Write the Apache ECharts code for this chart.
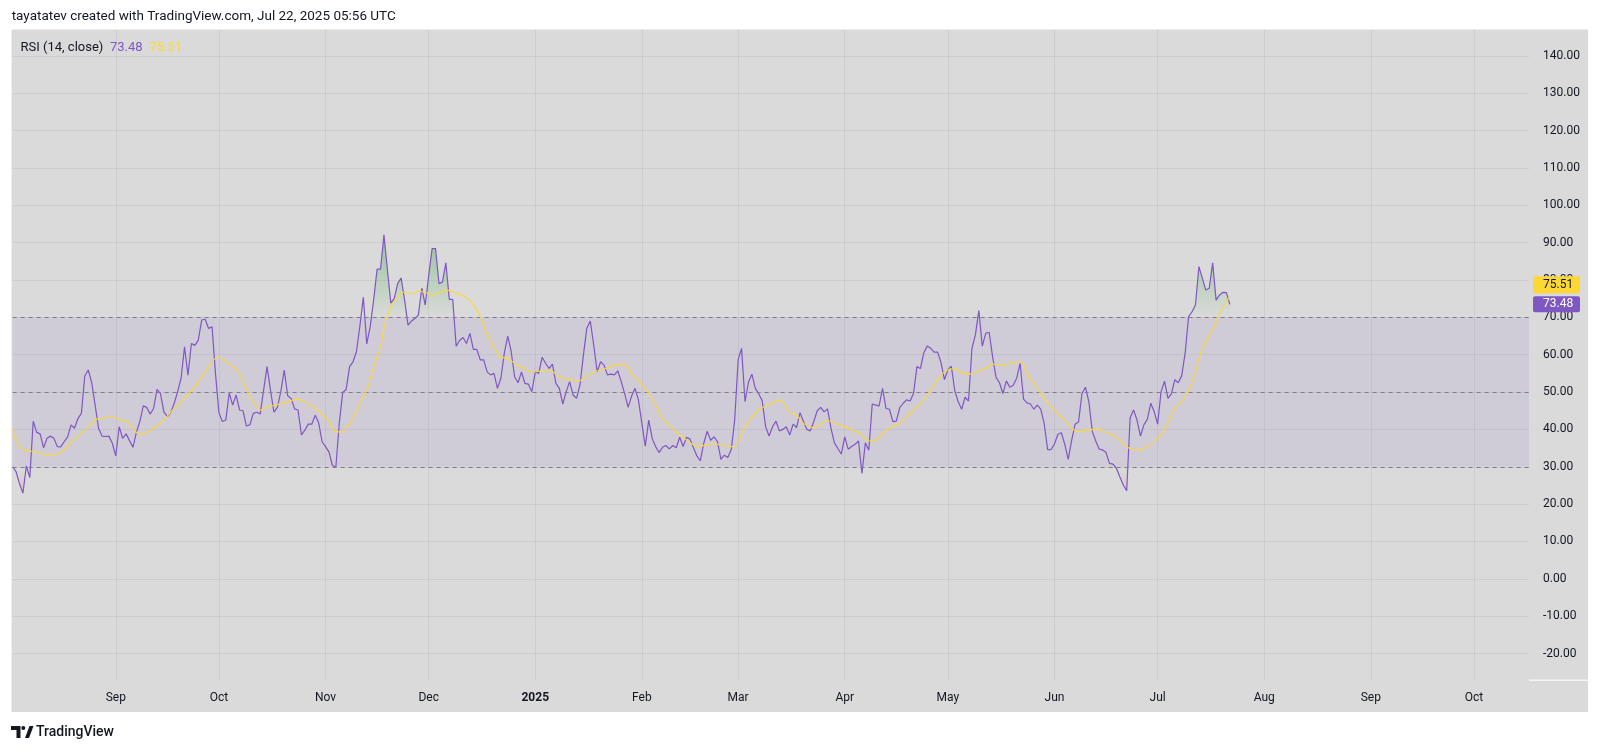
<!DOCTYPE html>
<html>
<head>
<meta charset="utf-8">
<script src="https://cdn.jsdelivr.net/npm/echarts@6.0.0/dist/echarts.min.js"></script>
<style>
html,body{margin:0;padding:0;background:#ffffff;}
#chart{width:1600px;height:751px;}
</style>
</head>
<body>
<div id="chart"></div>
<script>
// ---------------- data ----------------
const firstDate = '2024-08-02';   // first daily category
const lastDate  = '2025-10-17';   // right edge of the time scale
const monthNames = ['Jan','Feb','Mar','Apr','May','Jun','Jul','Aug','Sep','Oct','Nov','Dec'];

// RSI(14) daily values, 2024-08-02 .. 2025-07-22
const rsiValues = [
 30, 28.7, 25.5, 22.9, 30.2, 27.1, 42.2, 39.2, 38.8, 35.1,
 37.6, 38.2, 37.6, 35.4, 35.3, 36.7, 38, 41.2, 40.3, 42.9,
 44.3, 54.3, 55.9, 52.5, 46.5, 40.3, 38.2, 38.1, 38.2, 36.3,
 32.9, 40.7, 37.6, 38.8, 37, 35.2, 39.2, 42.1, 46.3, 45.9,
 44.1, 45.6, 50.7, 49.6, 44.7, 43.4, 44.5, 47, 50.1, 53.7,
 62.1, 54.5, 63, 62.5, 63.9, 69.3, 69.5, 67, 67.5, 55,
 44.5, 42.1, 42.5, 49.8, 46.5, 49.2, 45.2, 45, 40.9, 41.2,
 44.3, 44.6, 44.1, 50.5, 56.8, 50.5, 44.6, 45.9, 50.1, 55.9,
 49, 48.3, 45.5, 45.2, 38.5, 39.8, 41.4, 41.4, 43.8, 41.8,
 36.7, 35.4, 34, 30.4, 29.8, 41.6, 49.9, 50.7, 56.8, 58.1,
 60.8, 67.7, 75.4, 62.9, 67.5, 74.6, 82.9, 82.9, 92.1, 82.7,
 73.8, 75.1, 79.1, 80.5, 74.6, 67.9, 69, 69.7, 70.6, 77.8,
 73.3, 81.1, 88.4, 88.4, 79, 79.5, 84.6, 74.8, 74.8, 62.3,
 63.8, 64.6, 63, 65.7, 61.4, 61.4, 58.6, 58.6, 55.4, 54.6,
 55, 51, 53.7, 60.4, 65, 60.8, 54.1, 52.5, 55.4, 52.3,
 52.1, 50.1, 55.4, 55, 59.3, 57.7, 56.3, 57.5, 52.3, 51,
 46.8, 50.1, 52.8, 49.2, 48.3, 51.9, 59.9, 67.1, 69, 62.6,
 55.4, 58.1, 57.2, 54.6, 54.8, 54.6, 55.7, 52.8, 49.6, 45.9,
 48.9, 51, 47.9, 41.6, 35.5, 42.5, 37.6, 35.4, 33.8, 35.2,
 35.7, 34.8, 35.7, 35.1, 37.9, 35.4, 37.9, 37.4, 35.1, 32.9,
 31.6, 36.3, 39.5, 37.1, 38, 36.7, 32, 33.1, 32.5, 34.6,
 42.5, 58.6, 61.7, 47.4, 52.6, 54.8, 51, 49.5, 47.7, 40.7,
 38.2, 40.7, 42.2, 39.6, 40, 40.7, 38.5, 41.4, 40.5, 44.5,
 42.1, 40, 39.6, 42.1, 45, 45.9, 44.7, 45.5, 40.3, 36.4,
 34.9, 33.4, 38, 34.7, 35.4, 36, 36.9, 28.2, 36.4, 34.4,
 46.8, 46.5, 46.3, 51, 45.6, 45.4, 42.1, 42.2, 45.8, 47,
 47.9, 47.6, 49.6, 56.8, 56.3, 60.5, 62.3, 61.7, 60.7, 60.7,
 57.9, 53.3, 56, 56.9, 50.4, 47.4, 45.4, 48.6, 47.6, 61.7,
 65.3, 71.8, 62.3, 65.7, 66, 59.5, 54, 52.5, 49.6, 53,
 51.3, 51.8, 53.7, 57.7, 48.1, 47.1, 46.8, 45.4, 46.5, 45.4,
 41.6, 34.6, 34.6, 36.1, 38.7, 39.1, 36, 32, 37.1, 41.4,
 42, 49.6, 51.3, 47.4, 39.4, 36.9, 34.7, 34.5, 33.8, 30.9,
 30.7, 29.6, 27.3, 25.1, 23.6, 43.1, 45.2, 42.5, 38.2, 41.2,
 42.7, 47, 44.7, 41.4, 50.1, 52.9, 48.3, 49.5, 53.3, 52.5,
 54.4, 60.4, 70.2, 71.5, 73.3, 83.6, 80.5, 77.3, 77.8, 84.6,
 74.6, 76, 76.7, 76.6, 73.48
];

// RSI-based moving average, read at these days (days after 2024-08-01)
const maDay = [
 1,2,4,7,9,11,14,16,18,21,23,25,27,29,32,35,36,38,40,42,44,
 45,48,51,54,57,60,61,63,66,68,70,72,73,75,77,80,82,84,86,88,89,
 91,93,95,97,98,100,102,104,106,108,109,111,113,115,117,119,121,123,125,127,130,132,134,
 135,137,139,141,143,145,147,150,152,155,157,160,163,165,168,170,172,175,177,179,
 181,184,186,188,190,193,195,198,200,203,205,208,210,212,213,215,218,220,222,224,
 227,229,231,234,236,238,241,244,247,249,250,252,254,256,259,261,264,266,268,270,
 272,275,277,280,282,284,286,288,291,294,296,298,300,302,304,307,309,311,313,
 317,319,322,325,328,330,333,334,336,339,341,343,345,347,350,352,355
];
const maValues = [
 40,37.1,34.6,34.1,33.6,33.1,33.4,34.6,36.7,38.8,40.7,42.6,42.9,43.4,42.7,41.6,40.2,38.7,39.2,40.3,41.6,
 42.6,45.6,48.3,51.4,55.4,59.1,59.3,58.1,56.1,52.8,48.8,46.1,45.2,46,46.4,47.1,47.7,48.1,47.2,46.3,45.6,
 44.1,42.1,39.4,39.3,40.3,42.9,47,50.5,56.8,62.1,67,72.9,75.4,76.8,76.3,77,76.7,76.1,76.6,77.3,76.6,75.7,74.6,
 73.3,70.2,65.3,62.1,59.3,59,57.7,56.2,55.3,55.7,55.9,54.1,53.4,52.9,54.1,55.4,55.9,56.8,57.4,57.4,
 55,51.9,49.6,46.5,42.9,40.3,38.5,36.5,35.4,35.9,36.1,35.7,35.4,36.5,38.9,42.1,45.2,46.3,47.1,47.9,
 44.7,43.8,41.6,40.4,41.5,42.3,41.3,40.3,39.1,37.6,36.9,37.1,38.9,40.3,41.7,43.4,46,48,50.5,53.2,
 55.4,56.3,55.2,54.8,55.7,56.3,57.5,57.1,57.7,58.1,54.8,52.3,49.6,47.1,45,42.5,40.3,39.4,39.8,
 40,39.1,38,35.3,34.5,34.9,36.6,37.6,39.9,45.6,47.4,50.5,55.4,61.7,66.8,71.1,75.51
];

const yMin = -20, yMax = 140, yStep = 10;
const levelLines = [70, 50, 30];
const overbought = 70, oversold = 30;
const lastRsi = 73.48, lastMa = 75.51;
const headerText = 'tayatatev created with TradingView.com, Jul 22, 2025 05:56 UTC';
const legendName = 'RSI (14, close)';

// ---------------- layout & style ----------------
const W = 1600, H = 751;
const PL = 12.6, PR = 71;              // first category x / right gap
const FRAME_TOP = 29.5, FRAME_BOT = 680;
const MAIN_TOP = 55.9, MAIN_BOT = 653.5;
const pxPerUnit = (MAIN_BOT - MAIN_TOP) / (yMax - yMin);
const yPix = v => MAIN_TOP + (yMax - v) * pxPerUnit;

const COL = {
  bg: '#dadada', purple: '#7e57c2', yellow: '#fdd835', text: '#131722',
  grid: 'rgba(42,46,57,0.07)', level: '#7d7f88'
};
const FONT = 'Roboto, "Noto Sans", sans-serif';

// ---------------- categories ----------------
function buildDays(a, b) {
  const p = s => s.split('-').map(Number);
  const [y1, m1, d1] = p(a), [y2, m2, d2] = p(b);
  let t = Date.UTC(y1, m1 - 1, d1);
  const end = Date.UTC(y2, m2 - 1, d2);
  const out = [];
  while (t <= end) { out.push(new Date(t).toISOString().slice(0, 10)); t += 86400000; }
  return out;
}
const days = buildDays(firstDate, lastDate);
const isMonthStart = (i, v) => v.slice(8) === '01';

const chart = echarts.init(document.getElementById('chart'), null, {renderer: 'canvas'});

const hiddenX = idx => ({
  type: 'category', gridIndex: idx, data: days, boundaryGap: false, show: false
});

const option = {
  animation: false,
  backgroundColor: COL.bg,
  textStyle: {fontFamily: FONT},
  grid: [
    {left: PL, right: PR, top: FRAME_TOP, bottom: H - FRAME_BOT},
    {left: PL, right: PR, top: MAIN_TOP, bottom: H - MAIN_BOT},
    {left: PL, right: PR, top: MAIN_TOP, bottom: H - yPix(overbought)},
    {left: PL, right: PR, top: yPix(oversold), bottom: H - MAIN_BOT}
  ],
  xAxis: [
    {
      type: 'category', gridIndex: 0, data: days, boundaryGap: false,
      axisLine: {show: false}, axisTick: {show: false},
      axisLabel: {
        interval: isMonthStart, margin: 12, color: COL.text, fontSize: 12, fontFamily: FONT,
        formatter: v => {
          const m = +v.slice(5, 7) - 1;
          return m === 0 ? '{y|' + v.slice(0, 4) + '}' : monthNames[m];
        },
        rich: {y: {fontWeight: 'bold', fontSize: 12, color: COL.text, fontFamily: FONT}}
      },
      splitLine: {show: true, interval: isMonthStart, lineStyle: {color: COL.grid, width: 1}}
    },
    hiddenX(1), hiddenX(2), hiddenX(3)
  ],
  yAxis: [
    {type: 'value', gridIndex: 0, min: 0, max: 1, show: false},
    {
      type: 'value', gridIndex: 1, position: 'right', min: yMin, max: yMax, interval: yStep,
      axisLine: {show: false}, axisTick: {show: false},
      axisLabel: {margin: 14, color: COL.text, fontSize: 12, fontFamily: FONT,
                  formatter: v => v.toFixed(2)},
      splitLine: {show: true, lineStyle: {color: COL.grid, width: 1}}
    },
    {type: 'value', gridIndex: 2, min: overbought, max: yMax, show: false},
    {type: 'value', gridIndex: 3, min: yMin, max: oversold, show: false}
  ],
  series: [
    { // band 30-70 and level lines
      type: 'line', xAxisIndex: 1, yAxisIndex: 1, data: rsiValues, silent: true, z: 1,
      showSymbol: false, lineStyle: {opacity: 0},
      markArea: {silent: true, itemStyle: {color: 'rgba(126,87,194,0.10)'},
                 data: [[{yAxis: oversold}, {yAxis: overbought}]]},
      markLine: {silent: true, symbol: 'none', label: {show: false},
                 lineStyle: {color: COL.level, width: 1, type: [4, 4]},
                 data: levelLines.map(v => ({yAxis: v}))}
    },
    { // overbought fill
      type: 'line', xAxisIndex: 2, yAxisIndex: 2, data: rsiValues, silent: true, z: 2,
      showSymbol: false, lineStyle: {opacity: 0, width: 0},
      areaStyle: {origin: 'start', color: {
        type: 'linear', x: 0, y: yPix(100), x2: 0, y2: yPix(overbought), global: true,
        colorStops: [{offset: 0, color: 'rgba(76,175,80,0.95)'}, {offset: 1, color: 'rgba(76,175,80,0)'}]
      }}
    },
    { // oversold fill
      type: 'line', xAxisIndex: 3, yAxisIndex: 3, data: rsiValues, silent: true, z: 2,
      showSymbol: false, lineStyle: {opacity: 0, width: 0},
      areaStyle: {origin: 'end', color: {
        type: 'linear', x: 0, y: yPix(oversold), x2: 0, y2: yPix(0), global: true,
        colorStops: [{offset: 0, color: 'rgba(255,82,82,0)'}, {offset: 1, color: 'rgba(255,82,82,0.85)'}]
      }}
    },
    { // RSI
      name: 'RSI', type: 'line', xAxisIndex: 1, yAxisIndex: 1, data: rsiValues, z: 4,
      showSymbol: false, lineStyle: {color: COL.purple, width: 1.2}
    },
    { // MA
      name: 'MA', type: 'line', xAxisIndex: 1, yAxisIndex: 1, z: 5,
      data: maDay.map((d, i) => [d - 1, maValues[i]]),
      smooth: 0.4, showSymbol: false, lineStyle: {color: COL.yellow, width: 1.1}
    }
  ]
};
chart.setOption(option);

// ---------------- overlay texts / badges ----------------
const yR = chart.convertToPixel({yAxisIndex: 1}, lastRsi);
const badgeX = W - PR + 4, badgeW = 47, badgeH = 16;
const rTop = yR - badgeH / 2;
const mTop = rTop - 3 - 17;
const tvFont = (s, w) => (w || 'normal') + ' ' + s + 'px ' + FONT;

chart.setOption({
  graphic: [
    {type: 'rect', z: 50, shape: {x: 0, y: 0, width: W, height: FRAME_TOP}, style: {fill: '#fff'}},
    {type: 'rect', z: 50, shape: {x: 0, y: 0, width: 11.5, height: H}, style: {fill: '#fff'}},
    {type: 'rect', z: 50, shape: {x: 1588, y: 0, width: 12, height: H}, style: {fill: '#fff'}},
    {type: 'rect', z: 50, shape: {x: 0, y: 712, width: W, height: 40}, style: {fill: '#fff'}},
    {type: 'rect', z: 50, shape: {x: W - PR, y: FRAME_BOT - 0.5, width: 1588 - (W - PR), height: 1.5}, style: {fill: '#f4f4f4'}},
    {type: 'text', z: 60, style: {x: 11.7, y: 17, text: headerText, fill: COL.text,
      font: tvFont(13.5), verticalAlign: 'middle'}},
    {type: 'text', z: 60, style: {x: 20.5, y: 47.5, verticalAlign: 'middle',
      text: '{a|' + legendName + '}  {b|' + lastRsi.toFixed(2) + '}  {c|' + lastMa.toFixed(2) + '}',
      rich: {a: {fill: COL.text, font: tvFont(13)}, b: {fill: COL.purple, font: tvFont(13)},
             c: {fill: COL.yellow, font: tvFont(13)}}}},
    // logo
    {type: 'polygon', z: 60, shape: {points: [[11,726],[20.5,726],[20.5,738],[16.5,738],[16.5,730],[11,730]]}, style: {fill: COL.text}},
    {type: 'circle', z: 60, shape: {cx: 23.3, cy: 728, r: 2}, style: {fill: COL.text}},
    {type: 'polygon', z: 60, shape: {points: [[25,738],[29.5,726],[33.5,726],[29,738]]}, style: {fill: COL.text}},
    {type: 'text', z: 60, style: {x: 36, y: 732.5, text: 'TradingView', fill: COL.text,
      font: tvFont(14, '500'), verticalAlign: 'middle'}},
    // badges
    {type: 'rect', z: 70, shape: {x: badgeX, y: mTop, width: badgeW, height: 17, r: 2}, style: {fill: COL.yellow}},
    {type: 'text', z: 71, style: {x: W - PR + 14, y: mTop + 8.5, text: lastMa.toFixed(2), fill: COL.text,
      font: tvFont(12), verticalAlign: 'middle'}},
    {type: 'rect', z: 70, shape: {x: badgeX, y: rTop, width: badgeW, height: badgeH, r: 2}, style: {fill: COL.purple}},
    {type: 'text', z: 71, style: {x: W - PR + 14, y: yR, text: lastRsi.toFixed(2), fill: '#ffffff',
      font: tvFont(12), verticalAlign: 'middle'}}
  ]
});
</script>
</body>
</html>
